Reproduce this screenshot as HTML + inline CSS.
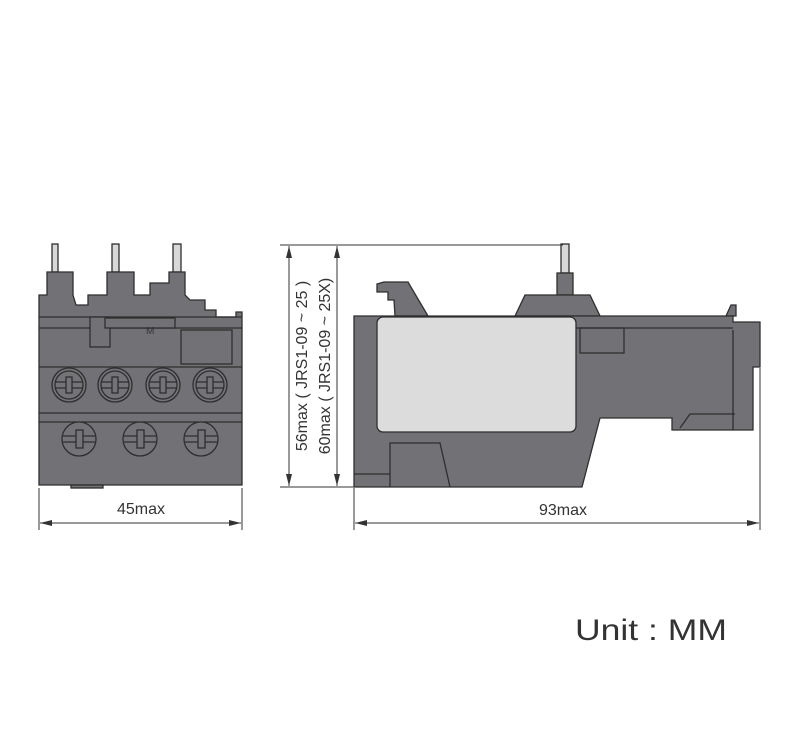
<!DOCTYPE html>
<html><head><style>
html,body{margin:0;padding:0;background:#fff;}
svg{display:block;}
text{font-family:"Liberation Sans","DejaVu Sans",sans-serif;fill:#333;}
</style></head><body>
<svg width="800" height="731" viewBox="0 0 800 731" xmlns="http://www.w3.org/2000/svg">
<defs>
<marker id="ar" viewBox="0 0 12 6" refX="12" refY="3" markerWidth="12" markerHeight="6" orient="auto-start-reverse" markerUnits="userSpaceOnUse">
<path d="M0,0 L12,3 L0,6 z" fill="#333"/></marker>
</defs>
<g stroke="#2e2e2e" stroke-width="1.3" fill="#727276">
<!-- FRONT VIEW -->
<rect x="52" y="244" width="6" height="28" fill="#d8d8d8"/>
<rect x="112" y="244" width="7" height="28" fill="#d8d8d8"/>
<rect x="173" y="244" width="8" height="28" fill="#d8d8d8"/>
<polygon points="39,295 47,295 47,272 73,272 73,295 76,305 88,305 88,295 107,295 107,272 134,272 134,295 150,295 150,283 169,283 169,272 185,272 185,295 190,300 205,300 205,310 216,310 216,317 236,317 236,312 242,312 242,485 39,485"/>
<line x1="39" y1="317" x2="242" y2="317"/>
<line x1="39" y1="328" x2="242" y2="328"/>
<rect x="90" y="317" width="20" height="30"/>
<rect x="105" y="318" width="70" height="10"/>
<rect x="181" y="330" width="51" height="34"/>
<line x1="39" y1="367" x2="242" y2="367"/>
<line x1="39" y1="413" x2="242" y2="413"/>
<line x1="39" y1="422" x2="242" y2="422"/>
<rect x="71" y="485" width="32" height="3"/>
<text x="146" y="334" font-size="10" stroke="none">M</text>
<g fill="#747478">
<circle cx="69" cy="385" r="17"/><circle cx="69" cy="385" r="14"/>
<circle cx="115" cy="385" r="17"/><circle cx="115" cy="385" r="14"/>
<circle cx="163" cy="385" r="17"/><circle cx="163" cy="385" r="14"/>
<circle cx="210" cy="385" r="17"/><circle cx="210" cy="385" r="14"/>
<circle cx="79" cy="439" r="17"/><circle cx="140" cy="439" r="17"/><circle cx="201" cy="439" r="17"/>
</g>
<g fill="none">
<path d="M55,382h28M55,388h28M101,382h28M101,388h28M149,382h28M149,388h28M196,382h28M196,388h28"/>
<path d="M63,436h32M63,442h32M124,436h32M124,442h32M185,436h32M185,442h32"/>
</g>
<g fill="#747478">
<rect x="66" y="377" width="6" height="16"/><rect x="112" y="377" width="6" height="16"/>
<rect x="160" y="377" width="6" height="16"/><rect x="207" y="377" width="6" height="16"/>
<rect x="76" y="430" width="7" height="18"/><rect x="137" y="430" width="7" height="18"/><rect x="198" y="430" width="7" height="18"/>
</g>

<!-- SIDE VIEW -->
<rect x="561" y="244" width="8" height="29" fill="#d8d8d8"/>
<rect x="557" y="273" width="16" height="22"/>
<polygon points="515,316 525,295 590,295 600,316"/>
<polygon points="377,292 377,284 384,282 408,282 428,316 395,316 394,300 388,300 388,292"/>
<polygon points="726,316 731,305 736,305 736,316"/>
<polygon points="354,316 733,316 733,322 760,322 760,367 753,367 753,430 735,430 735,430 672,430 672,418 600,418 582,487 354,487"/>
<rect x="377" y="317" width="199" height="115" rx="6" fill="#dcdcdc"/>
<rect x="580" y="328" width="44" height="25"/>
<line x1="576" y1="328" x2="733" y2="328"/>
<polyline fill="none" points="390,487 390,443 440,443 450,487"/>
<line x1="354" y1="474" x2="390" y2="474"/>
<line x1="733" y1="330" x2="733" y2="430"/>
<line x1="680" y1="428" x2="690" y2="414"/>
<line x1="690" y1="414" x2="735" y2="414"/>
</g>

<!-- dimension lines -->
<g stroke="#333" stroke-width="1" fill="none">
<line x1="39" y1="488" x2="39" y2="530"/>
<line x1="242" y1="488" x2="242" y2="530"/>
<line x1="40" y1="523" x2="241" y2="523" marker-start="url(#ar)" marker-end="url(#ar)"/>
<line x1="354" y1="488" x2="354" y2="530"/>
<line x1="760" y1="368" x2="760" y2="530"/>
<line x1="355" y1="523" x2="759" y2="523" marker-start="url(#ar)" marker-end="url(#ar)"/>
<line x1="280" y1="245" x2="563" y2="245"/>
<line x1="280" y1="487" x2="354" y2="487"/>
<line x1="289" y1="246" x2="289" y2="486" marker-start="url(#ar)" marker-end="url(#ar)"/>
<line x1="337" y1="246" x2="337" y2="486" marker-start="url(#ar)" marker-end="url(#ar)"/>
</g>
<text x="141" y="514" font-size="16" text-anchor="middle">45max</text>
<text x="563" y="515" font-size="16" text-anchor="middle">93max</text>
<text transform="translate(307,366) rotate(-90)" font-size="16" text-anchor="middle">56max ( JRS1-09 ~ 25 )</text>
<text transform="translate(330,366) rotate(-90)" font-size="16" text-anchor="middle">60max ( JRS1-09 ~ 25X)</text>
<text x="575" y="640" font-size="30" fill="#111" textLength="152" lengthAdjust="spacingAndGlyphs">Unit : MM</text>
</svg>
</body></html>
